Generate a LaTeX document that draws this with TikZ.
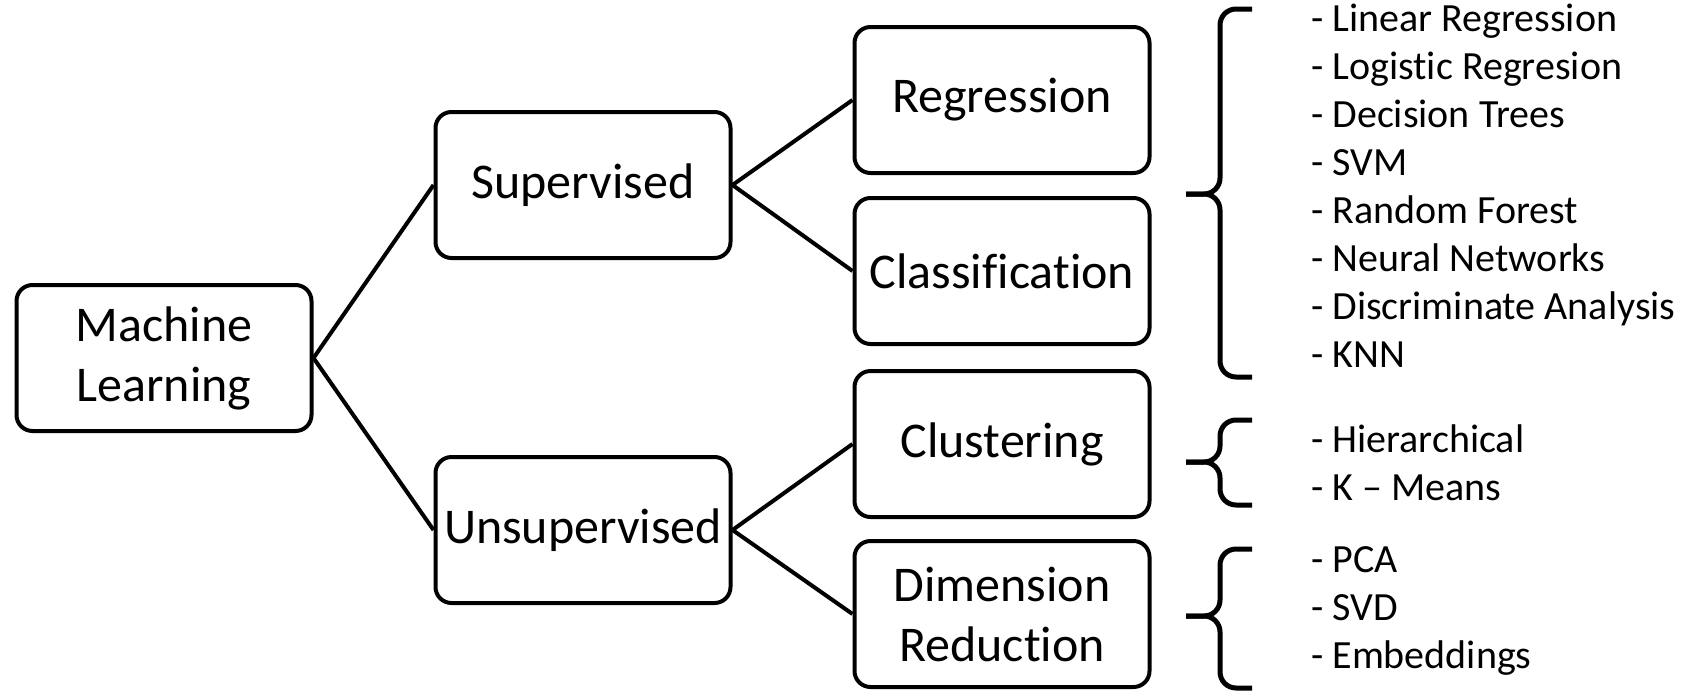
\documentclass[tikz,border=0pt]{standalone}
\usepackage{fontspec}
\setmainfont{Carlito}[Ligatures=NoCommon]
\begin{document}
\begin{tikzpicture}[x=1pt,y=-1pt,
  box/.style={draw, line width=4pt, rounded corners=16pt, minimum width=295pt,
    minimum height=146pt, inner sep=0pt, align=center,
    font=\fontsize{50}{60}\selectfont},
  link/.style={line width=4pt},
  curly/.style={line width=5pt, rounded corners=16pt},
  items/.style={anchor=west, align=left, inner sep=0pt,
    font=\fontsize{40}{48}\selectfont}]
\useasboundingbox (0,0) rectangle (1688,691);

% category boxes
\node[box] (ml)    at (164,358)  {Machine\\Learning};
\node[box] (sup)   at (583,185)  {Supervised};
\node[box] (unsup) at (583,530)  {Unsupervised};
\node[box] (reg)   at (1002,100) {Regression};
\node[box] (cls)   at (1002,271) {Classification};
\node[box] (clu)   at (1002,444) {Clustering};
\node[box] (dim)   at (1002,614) {Dimension\\Reduction};

% tree links
\draw[link] (ml.east) -- (sup.west);
\draw[link] (ml.east) -- (unsup.west);
\draw[link] (sup.east) -- (reg.west);
\draw[link] (sup.east) -- (cls.west);
\draw[link] (unsup.east) -- (clu.west);
\draw[link] (unsup.east) -- (dim.west);

% curly braces: top, tip, bottom
\newcommand\curlybrace[3]{%
  \draw[curly] (1252,#1) -- (1220,#1) -- (1220,#2) -- (1186,#2);
  \draw[curly] (1186,#2) -- (1220,#2) -- (1220,#3) -- (1252,#3);}
\curlybrace{9}{194}{377}
\curlybrace{420}{462}{505}
\curlybrace{549}{616}{688}

% method lists
\node[items] (suplist) at (1311,186) {- Linear Regression\\- Logistic Regresion\\- Decision Trees\\- SVM\\- Random Forest\\- Neural Networks\\- Discriminate Analysis\\- KNN};
\node[items] (clulist) at (1311,463) {- Hierarchical\\- K -- Means};
\node[items] (dimlist) at (1311,611) {- PCA\\- SVD\\- Embeddings};
\end{tikzpicture}
\end{document}
